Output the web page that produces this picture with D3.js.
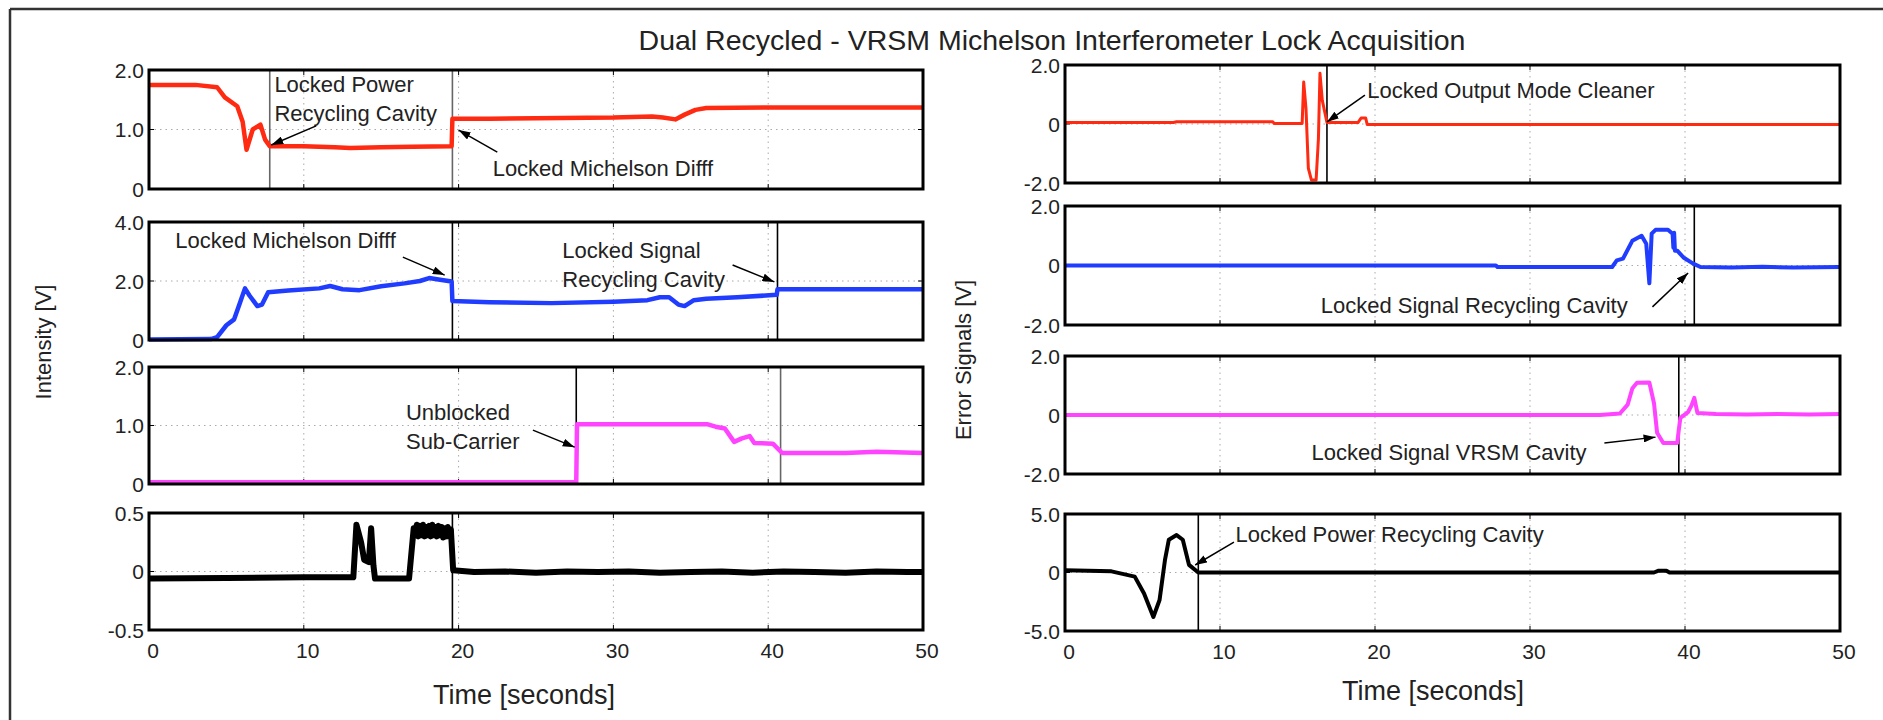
<!DOCTYPE html>
<html>
<head>
<meta charset="utf-8">
<script src="https://cdn.jsdelivr.net/npm/d3@7"></script>
<style>
  body { margin: 0; background: #fff; }
  svg { display: block; font-family: "Liberation Sans", Arial, sans-serif; }
</style>
</head>
<body>
<div id="chart"></div>
<script>
// ---- data: [time (s), volts] ----
const timeTicks = [0, 10, 20, 30, 40, 50];

// left column: intensities
const pwrRecInt = [[0,1.75],[3,1.75],[4.4,1.71],[4.9,1.54],[5.7,1.39],[6.05,1.13],[6.3,0.66],[6.7,1.0],[7.2,1.08],[7.5,0.83],[7.8,0.72],[10,0.72],[12,0.7],[13,0.69],[15,0.7],[17,0.71],[19.55,0.72],
  [19.6,1.18],[22,1.18],[25,1.19],[30,1.2],[32.5,1.22],[33.2,1.2],[34,1.17],[34.6,1.25],[35.3,1.33],[36,1.36],[40,1.37],[45,1.37],[50,1.37]];
const michInt = [[0,0.02],[4,0.03],[4.4,0.1],[5,0.5],[5.5,0.7],[5.9,1.3],[6.2,1.75],[6.5,1.5],[7,1.15],[7.3,1.2],[7.7,1.62],[9,1.68],[11,1.75],[11.7,1.83],[12.5,1.72],[13.6,1.69],[15,1.82],[16.5,1.92],[17.5,2.0],[18.1,2.1],[18.7,2.05],[19.55,1.98],
  [19.6,1.32],[22,1.28],[26,1.25],[30,1.3],[32.2,1.35],[33,1.45],[33.6,1.45],[34.2,1.2],[34.6,1.15],[35.2,1.35],[36,1.4],[38,1.45],[40.55,1.53],[40.6,1.72],[45,1.72],[50,1.72]];
const subCarrierInt = [[0,0.03],[10,0.03],[20,0.03],[27.6,0.03],[27.65,1.02],[33,1.02],[36.1,1.02],[36.6,0.98],[37.2,0.95],[37.8,0.72],[38.3,0.78],[38.8,0.82],[39.1,0.7],[40.3,0.69],[40.9,0.53],[45,0.53],[47,0.55],[50,0.53]];
const darkPortInt = [[0,-0.06],[5,-0.055],[10,-0.05],[13.2,-0.05],[13.4,0.4],[13.7,0.25],[13.9,0.1],[14.2,0.08],[14.35,0.37],[14.5,0.05],[14.6,-0.06],[16.8,-0.06],
  [17.1,0.37],[17.2,0.31],[17.3,0.4],[17.4,0.3],[17.5,0.39],[17.6,0.31],[17.7,0.4],[17.8,0.3],[17.9,0.38],[18.0,0.31],[18.1,0.39],[18.2,0.3],[18.3,0.4],[18.4,0.31],[18.5,0.38],[18.6,0.3],[18.7,0.39],[18.8,0.31],[18.9,0.38],[19.0,0.29],[19.1,0.37],[19.2,0.3],[19.3,0.38],[19.4,0.3],[19.5,0.36],
  [19.65,0.01],[21,-0.005],[23,0.0],[25,-0.01],[27,0.0],[29,-0.005],[31,0.0],[33,-0.01],[35,-0.005],[37,0.0],[39,-0.01],[41,0.0],[43,-0.005],[45,-0.01],[47,0.0],[49,-0.005],[50,-0.005]];

// right column: error signals
const omcErr = [[0,0.05],[7,0.05],[7.2,0.08],[13.4,0.08],[13.5,0.02],[15.3,0.02],[15.4,1.42],[15.55,0.5],[15.7,-1.5],[15.9,-1.9],[16.2,-1.9],[16.35,-0.5],[16.45,1.72],[16.6,0.8],[16.9,0.05],[18.9,0.05],[19.1,0.2],[19.4,0.2],[19.5,-0.02],[30,-0.02],[50,-0.02]];
const srcErr = [[0,0],[27.8,0],[27.9,-0.05],[35.3,-0.05],[35.6,0.17],[36,0.23],[36.6,0.83],[37.2,1.0],[37.5,0.73],[37.7,-0.6],[37.85,1.07],[38.1,1.2],[38.9,1.2],[39.2,1.07],[39.25,0.6],[39.3,1.1],[39.35,0.5],[39.5,0.5],[39.9,0.27],[40.5,0.07],
  [41,-0.05],[43,-0.07],[45,-0.04],[47,-0.07],[50,-0.05]];
const vrsmErr = [[0,0],[34.5,0],[35.8,0.05],[36.3,0.35],[36.6,0.9],[36.9,1.09],[37.7,1.1],[38.0,0.4],[38.2,-0.6],[38.6,-0.95],[39.5,-0.95],[39.6,-0.5],[39.7,-0.1],[40.2,0.1],[40.4,0.3],[40.6,0.58],[40.8,0.07],
  [42,0.03],[44,0.02],[46,0.03],[48,0.02],[50,0.03]];
const prcErr = [[0,0.2],[3,0.1],[4.5,-0.35],[5.1,-1.8],[5.7,-3.8],[6.1,-2.35],[6.45,1.07],[6.7,2.8],[7.2,3.2],[7.6,2.8],[8.0,0.65],[8.5,0.1],[8.6,0],[38,0],[38.3,0.15],[38.8,0.15],[39,0],[50,0]];

// y ticks
const ticksA = [0, 1, 2], ticksB = [0, 2, 4], ticksC = [-0.5, 0, 0.5], ticksD = [-2, 0, 2], ticksE = [-5, 0, 5];

// lock events (s)
const locksL1 = [7.8, 19.6], locksL2 = [19.6, 40.6], locksL3 = [27.6, 40.8], locksL4 = [19.6];
const locksR1 = [16.9], locksR2 = [40.6], locksR3 = [39.6], locksR4 = [8.6];

const width = 1883, height = 720;

let svg = d3.select("#chart")
    .append("svg")
    .attr("width", width)
    .attr("height", height);

// arrow head
svg.append("defs").append("marker")
    .attr("id", "arrow")
    .attr("viewBox", "0 0 12 8")
    .attr("refX", 12).attr("refY", 4)
    .attr("markerWidth", 12).attr("markerHeight", 8)
    .attr("markerUnits", "userSpaceOnUse")
    .attr("orient", "auto")
    .append("path")
    .attr("d", "M0,0 L12,4 L0,8 Z")
    .attr("fill", "#000");

// outer frame (top + left edges only show)
svg.append("line").attr("x1", 10).attr("x2", width).attr("y1", 9).attr("y2", 9)
    .attr("stroke", "#333").attr("stroke-width", 2.5);
svg.append("line").attr("x1", 10).attr("x2", 10).attr("y1", 9).attr("y2", height)
    .attr("stroke", "#333").attr("stroke-width", 2.5);

const cols = [{ x0: 149, x1: 923 }, { x0: 1065, x1: 1840 }];
const x = cols.map(c => d3.scaleLinear().domain([0, 50]).range([c.x0, c.x1]));

const fmt = d => d === 0 ? "0" : d.toFixed(1); // plain hyphen minus like the scope plot

const panels = [
  { col: 0, top: 70, bottom: 189, ticks: ticksA, data: pwrRecInt, color: "#ff2a12", sw: 4.5, locks: locksL1, lockColor: "#666",
    notes: [{ lines: ["Locked Power", "Recycling Cavity"], t: 8.1, v: 1.63, from: [10.8, 1.06], to: [7.9, 0.74] },
            { lines: ["Locked Michelson Difff"], t: 22.2, v: 0.22, from: [22.5, 0.62], to: [20.0, 0.99] }] },
  { col: 0, top: 222, bottom: 340, ticks: ticksB, data: michInt, color: "#1f3cff", sw: 4.5, locks: locksL2, lockColor: "#000",
    notes: [{ lines: ["Locked Michelson Difff"], t: 1.7, v: 3.12, from: [16.4, 2.81], to: [19.1, 2.2] },
            { lines: ["Locked Signal", "Recycling Cavity"], t: 26.7, v: 2.78, from: [37.7, 2.54], to: [40.4, 1.97] }] },
  { col: 0, top: 367, bottom: 484, ticks: ticksA, data: subCarrierInt, color: "#ff44ff", sw: 4.5, locks: locksL3, lockColor: ["#000", "#666"],
    notes: [{ lines: ["Unblocked", "Sub-Carrier"], t: 16.6, v: 1.09, from: [24.8, 0.92], to: [27.5, 0.63] }] },
  { col: 0, top: 513, bottom: 630, ticks: ticksC, data: darkPortInt, color: "#000", sw: 6, locks: locksL4, lockColor: "#000", xAxis: true,
    notes: [] },
  { col: 1, top: 65, bottom: 183, ticks: ticksD, data: omcErr, color: "#ff2a12", sw: 3, locks: locksR1, lockColor: "#000",
    notes: [{ lines: ["Locked Output Mode Cleaner"], t: 19.5, v: 0.88, from: [19.35, 0.98], to: [16.9, 0.07] }] },
  { col: 1, top: 206, bottom: 325, ticks: ticksD, data: srcErr, color: "#1f3cff", sw: 4, locks: locksR2, lockColor: "#000",
    notes: [{ lines: ["Locked Signal Recycling Cavity"], t: 16.5, v: -1.6, from: [37.9, -1.39], to: [40.2, -0.25] }] },
  { col: 1, top: 356, bottom: 474, ticks: ticksD, data: vrsmErr, color: "#ff44ff", sw: 4, locks: locksR3, lockColor: "#000",
    notes: [{ lines: ["Locked Signal VRSM Cavity"], t: 15.9, v: -1.53, from: [34.8, -0.95], to: [38.1, -0.75] }] },
  { col: 1, top: 514, bottom: 631, ticks: ticksE, data: prcErr, color: "#000", sw: 4, locks: locksR4, lockColor: "#000", xAxis: true,
    notes: [{ lines: ["Locked Power Recycling Cavity"], t: 11.0, v: 2.6, from: [10.9, 2.6], to: [8.4, 0.64] }] }
];

for (let p of panels) {
    let xs = x[p.col];
    let y = d3.scaleLinear()
        .domain([p.ticks[0], p.ticks[p.ticks.length - 1]])
        .range([p.bottom, p.top]);
    let g = svg.append("g");

    // dotted grid
    g.selectAll(".vgrid")
        .data(timeTicks.slice(1, -1))
        .join("line")
        .attr("x1", d => xs(d)).attr("x2", d => xs(d))
        .attr("y1", p.top).attr("y2", p.bottom)
        .attr("stroke", "#aaa").attr("stroke-width", 1).attr("stroke-dasharray", "1.5,4");
    g.append("line")
        .attr("x1", xs(0)).attr("x2", xs(50))
        .attr("y1", y(p.ticks[1])).attr("y2", y(p.ticks[1]))
        .attr("stroke", "#aaa").attr("stroke-width", 1).attr("stroke-dasharray", "1.5,4");

    // small inside ticks
    g.selectAll(".xt")
        .data(timeTicks)
        .join("path")
        .attr("d", d => `M${xs(d)},${p.bottom}v-5M${xs(d)},${p.top}v5`)
        .attr("stroke", "#000").attr("stroke-width", 1);
    g.selectAll(".yt")
        .data(p.ticks)
        .join("path")
        .attr("d", d => `M${xs(0)},${y(d)}h5M${xs(50)},${y(d)}h-5`)
        .attr("stroke", "#000").attr("stroke-width", 1);

    // lock event lines
    g.selectAll(".lock")
        .data(p.locks)
        .join("line")
        .attr("x1", d => xs(d)).attr("x2", d => xs(d))
        .attr("y1", p.top).attr("y2", p.bottom)
        .attr("stroke", (d, i) => Array.isArray(p.lockColor) ? p.lockColor[i] : p.lockColor)
        .attr("stroke-width", 1.6);

    // trace
    g.append("path")
        .datum(p.data)
        .attr("fill", "none")
        .attr("stroke", p.color)
        .attr("stroke-width", p.sw)
        .attr("stroke-linejoin", "round")
        .attr("d", d3.line().x(d => xs(d[0])).y(d => y(d[1])));

    // frame
    g.append("rect")
        .attr("x", xs(0)).attr("y", p.top)
        .attr("width", xs(50) - xs(0)).attr("height", p.bottom - p.top)
        .attr("fill", "none").attr("stroke", "#000").attr("stroke-width", 3);

    // y tick labels
    g.selectAll(".ylab")
        .data(p.ticks)
        .join("text")
        .attr("x", xs(0) - 5)
        .attr("y", d => y(d))
        .attr("dy", "0.36em")
        .attr("text-anchor", "end")
        .style("font-size", "21px")
        .style("fill", "#222")
        .text(fmt);

    // x tick labels on bottom panels
    if (p.xAxis) {
        g.selectAll(".xlab")
            .data(timeTicks)
            .join("text")
            .attr("x", d => xs(d) + 4)
            .attr("y", p.bottom + 28)
            .attr("text-anchor", "middle")
            .style("font-size", "21px")
            .style("fill", "#222")
            .text(d => d);
    }

    // annotations
    for (let n of p.notes) {
        let t = g.append("text")
            .attr("x", xs(n.t))
            .attr("y", y(n.v))
            .style("font-size", "22px")
            .style("fill", "#222");
        t.selectAll("tspan")
            .data(n.lines)
            .join("tspan")
            .attr("x", xs(n.t))
            .attr("dy", (d, i) => i === 0 ? 0 : 29)
            .text(d => d);
        g.append("line")
            .attr("x1", xs(n.from[0])).attr("y1", y(n.from[1]))
            .attr("x2", xs(n.to[0])).attr("y2", y(n.to[1]))
            .attr("stroke", "#000").attr("stroke-width", 1.5)
            .attr("marker-end", "url(#arrow)");
    }
}

// titles
svg.append("text")
    .attr("x", 1052).attr("y", 50)
    .attr("text-anchor", "middle")
    .style("font-size", "28.5px")
    .style("fill", "#222")
    .text("Dual Recycled - VRSM Michelson Interferometer Lock Acquisition");

svg.append("text")
    .attr("x", 524).attr("y", 704)
    .attr("text-anchor", "middle")
    .style("font-size", "27px")
    .style("fill", "#222")
    .text("Time [seconds]");

svg.append("text")
    .attr("x", 1433).attr("y", 700)
    .attr("text-anchor", "middle")
    .style("font-size", "27px")
    .style("fill", "#222")
    .text("Time [seconds]");

svg.append("text")
    .attr("transform", "translate(43,342) rotate(-90)")
    .attr("text-anchor", "middle")
    .attr("dy", "0.36em")
    .style("font-size", "22px")
    .style("fill", "#222")
    .text("Intensity [V]");

svg.append("text")
    .attr("transform", "translate(963,360) rotate(-90)")
    .attr("text-anchor", "middle")
    .attr("dy", "0.36em")
    .style("font-size", "22px")
    .style("fill", "#222")
    .text("Error Signals [V]");
</script>
</body>
</html>
